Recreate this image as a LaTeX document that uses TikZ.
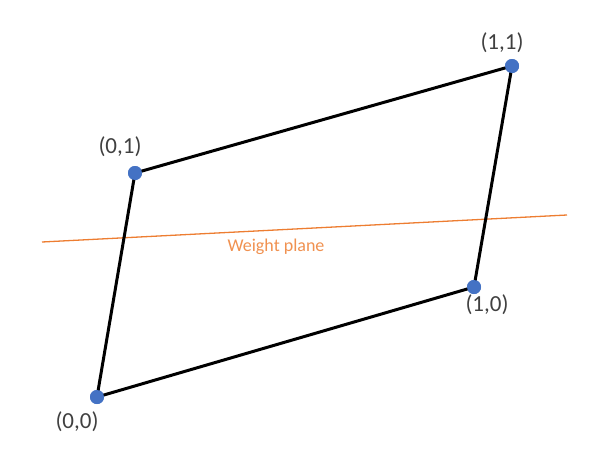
\documentclass[tikz,border=0pt]{standalone}
\usepackage{fontspec}
\setmainfont{Carlito}
\usepackage{tikz}
\usetikzlibrary{positioning}
\definecolor{dotblue}{RGB}{68,114,196}
\definecolor{planeorange}{RGB}{237,125,49}
\tikzset{
  pt/.style={circle, fill=dotblue, inner sep=0pt, minimum size=14pt},
  lbl/.style={font=\fontsize{23}{27}\selectfont, text=black!75, inner sep=0pt},
  edge/.style={line width=3pt, draw=black},
  wplane/.style={line width=1.3pt, draw=planeorange},
}

\begin{document}
\begin{tikzpicture}[x=1pt, y=-1pt]
    \useasboundingbox (0,0) rectangle (600,466);
    % weight plane
    \coordinate (wa) at (42,242);
    \coordinate (wb) at (567,215);
    \draw[wplane] (wa) -- (wb);
    \node[font=\fontsize{18}{22}\selectfont, text=planeorange!85, inner sep=0pt] (wl) at (276,247) {Weight plane};
    % corners
    \node[pt] (p00) at (97,397) {};
    \node[pt] (p01) at (135,173) {};
    \node[pt] (p11) at (512,66) {};
    \node[pt] (p10) at (474,287) {};
    \foreach \x/\y in {p00/p01,p01/p11,p11/p10,p10/p00}{\draw[edge] (\x.center)--(\y.center);}
    \foreach \n in {p00,p01,p11,p10}{\fill[dotblue] (\n) circle (7pt);}
    % labels
    \node[lbl] (l01) at ([shift={(-15,-26)}]p01) {(0,1)};
    \node[lbl] (l11) at ([shift={(-10,-23)}]p11) {(1,1)};
    \node[lbl] (l00) at ([shift={(-20,25)}]p00) {(0,0)};
    \node[lbl] (l10) at ([shift={(13,18)}]p10) {(1,0)};
\end{tikzpicture}
\end{document}
